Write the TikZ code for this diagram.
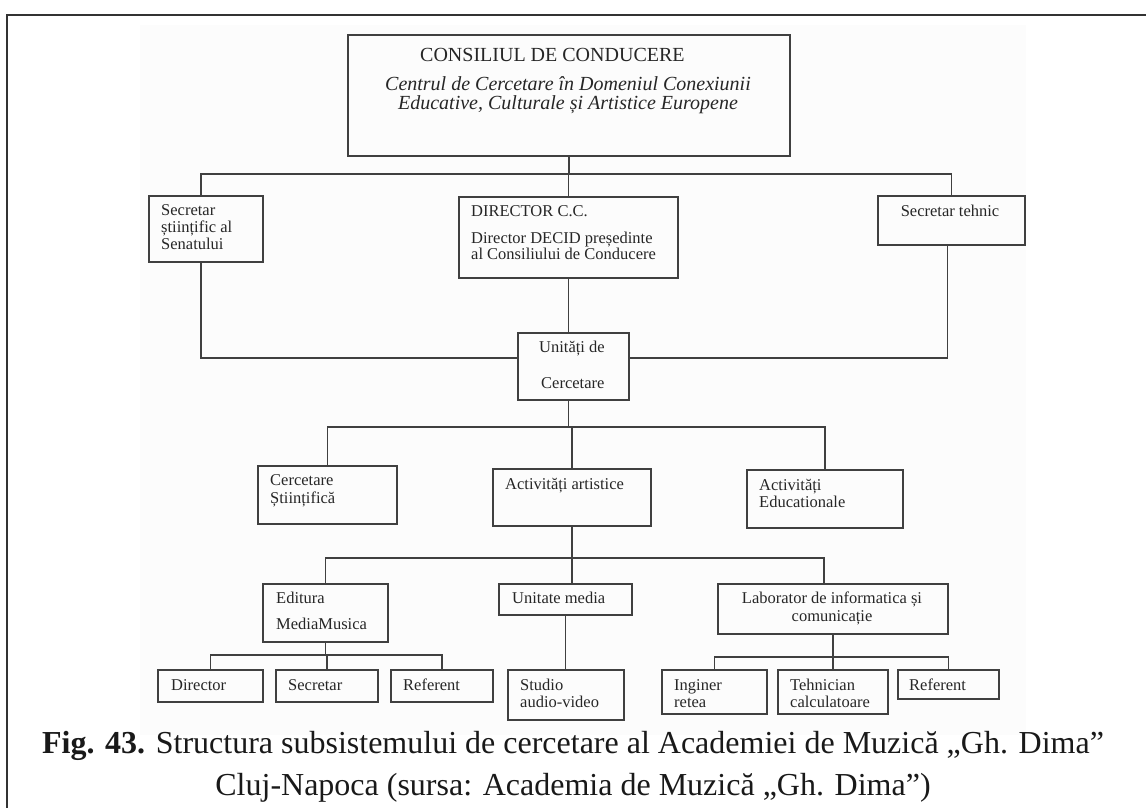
\documentclass[tikz,border=0pt]{standalone}
\usepackage{fontspec}
\setmainfont{Liberation Serif}
\definecolor{linec}{gray}{0.25}
\definecolor{txtc}{gray}{0.15}
\begin{document}
\begin{tikzpicture}[x=1pt,y=-1pt,
  box/.style={draw=linec, line width=1.8pt, inner sep=0pt, anchor=north west},
  lbl/.style={text=txtc, font=\fontsize{16.5}{17}\selectfont, inner sep=0pt, align=left, anchor=base west},
  conn/.style={draw=linec, line width=1.8pt}]
\useasboundingbox (0,0) rectangle (1146,808);
\fill[black!1.2] (140,25) rectangle (1026,735);
\draw[line width=2pt, black!80] (7,815) -- (7,15) -- (1150,15);
% boxes
\node[box, minimum width=442pt, minimum height=121pt] (top) at (347,34) {};
\node[box, minimum width=114pt, minimum height=66pt] (sec) at (148,195) {};
\node[box, minimum width=219pt, minimum height=81pt] (dir) at (458,196) {};
\node[box, minimum width=147pt, minimum height=49pt] (tech) at (877,195) {};
\node[box, minimum width=111pt, minimum height=67pt] (unit) at (517,332) {};
\node[box, minimum width=139pt, minimum height=58pt] (cerc) at (257,465) {};
\node[box, minimum width=158pt, minimum height=57pt] (art) at (492,468) {};
\node[box, minimum width=156pt, minimum height=58pt] (edu) at (746,469) {};
\node[box, minimum width=125pt, minimum height=58pt] (edit) at (262,583) {};
\node[box, minimum width=133pt, minimum height=31pt] (media) at (498,583) {};
\node[box, minimum width=230pt, minimum height=50pt] (lab) at (717,583) {};
\node[box, minimum width=105pt, minimum height=32pt] (d1) at (157,669) {};
\node[box, minimum width=102pt, minimum height=32pt] (s1) at (275,669) {};
\node[box, minimum width=102pt, minimum height=32pt] (r1) at (390,669) {};
\node[box, minimum width=116pt, minimum height=50pt] (studio) at (507,669) {};
\node[box, minimum width=105pt, minimum height=44pt] (ing) at (661,669) {};
\node[box, minimum width=110pt, minimum height=44pt] (teh) at (777,669) {};
\node[box, minimum width=101pt, minimum height=29pt] (r2) at (897,669) {};
% bus coordinates
\coordinate (b1) at (0,174);
\coordinate (bu) at (0,358);
\coordinate (b2) at (0,427);
\coordinate (b3) at (0,558);
\coordinate (b4) at (0,655);
\coordinate (b5) at (0,657);
% connectors
\draw[conn] (top.south) -- (top.south |- b1);
\draw[conn] ([xshift=-5pt]sec.north) -- ([xshift=-5pt]sec.north |- b1) -- (tech.north |- b1) -- (tech.north);
\draw[conn] (dir.north |- b1) -- (dir.north);
\draw[conn] ([xshift=-5pt]sec.south) -- ([xshift=-5pt]sec.south |- bu) -- (unit.west |- bu);
\draw[conn] ([xshift=-4pt]tech.south) -- ([xshift=-4pt]tech.south |- bu) -- (unit.east |- bu);
\draw[conn] (dir.south) -- (dir.south |- unit.north);
\draw[conn] (dir.south |- unit.south) -- (dir.south |- b2);
\draw[conn] (cerc.north) -- (cerc.north |- b2) -- (edu.north |- b2) -- (edu.north);
\draw[conn] (art.north |- b2) -- (art.north);
\draw[conn] (art.south) -- (art.south |- media.north);
\draw[conn] (edit.north) -- (edit.north |- b3) -- ([xshift=-9pt]lab.north |- b3) -- ([xshift=-9pt]lab.north);
\draw[conn] (edit.south) -- (edit.south |- b4);
\draw[conn] (d1.north) -- (d1.north |- b4) -- (r1.north |- b4) -- (r1.north);
\draw[conn] (s1.north |- b4) -- (s1.north);
\draw[conn] (media.south) -- (media.south |- studio.north);
\draw[conn] (lab.south) -- (lab.south |- b5);
\draw[conn] (ing.north) -- (ing.north |- b5) -- (r2.north |- b5) -- (r2.north);
\draw[conn] (teh.north |- b5) -- (teh.north);
% texts (multi-line nodes are placed by the baseline of their last line)
\node[lbl, font=\fontsize{20}{20}\selectfont] (ttop1) at (420,62) {CONSILIUL DE CONDUCERE};
\node[lbl, anchor=base, align=center, font=\fontsize{20}{19}\selectfont\itshape] (ttop2) at (568,109) {Centrul de Cercetare în Domeniul Conexiunii\\Educative, Culturale și Artistice Europene};
\node[lbl] (tsec) at (161,249) {Secretar\\științific al\\Senatului};
\node[lbl] (tdir1) at (471,216) {DIRECTOR C.C.};
\node[lbl, font=\fontsize{16.5}{16}\selectfont] (tdir2) at (471,259) {Director DECID președinte\\al Consiliului de Conducere};
\node[lbl, anchor=base] (ttech) at (950,216) {Secretar tehnic};
\node[lbl] (tunit1) at (539,352) {Unități de};
\node[lbl] (tunit2) at (541,388) {Cercetare};
\node[lbl, font=\fontsize{16.5}{18}\selectfont] (tcerc) at (270,503) {Cercetare\\Științifică};
\node[lbl] (tart) at (505,489) {Activități artistice};
\node[lbl] (tedu) at (759,507) {Activități\\Educationale};
\node[lbl] (tedit1) at (276,603) {Editura};
\node[lbl] (tedit2) at (276,629) {MediaMusica};
\node[lbl] (tmedia) at (512,603) {Unitate media};
\node[lbl, anchor=base, align=center, font=\fontsize{16.5}{18}\selectfont] (tlab) at (832,621) {Laborator de informatica și\\comunicație};
\node[lbl] (td1) at (171,690) {Director};
\node[lbl] (ts1) at (288,690) {Secretar};
\node[lbl] (tr1) at (403,690) {Referent};
\node[lbl] (tstudio) at (520,707) {Studio\\audio-video};
\node[lbl] (ting) at (674,707) {Inginer\\retea};
\node[lbl] (tteh) at (790,707) {Tehnician\\calculatoare};
\node[lbl] (tr2) at (909,690) {Referent};
% caption
\node[lbl, anchor=base, align=center, text=black!90, font=\fontsize{32}{42}\selectfont] (cap) at (573,795) {\textbf{Fig. 43.} Structura subsistemului de cercetare al Academiei de Muzică „Gh. Dima”\\Cluj-Napoca (sursa: Academia de Muzică „Gh. Dima”)};
\end{tikzpicture}
\end{document}
